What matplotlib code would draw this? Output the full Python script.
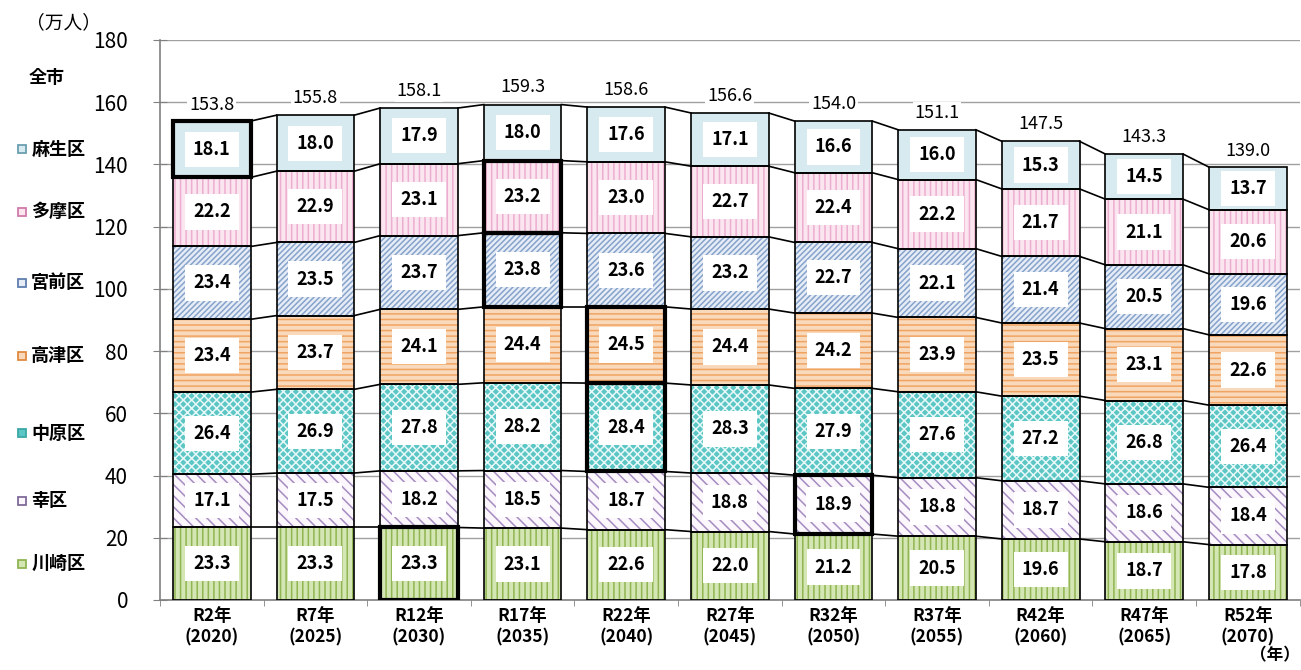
import numpy as np
import matplotlib
matplotlib.use("Agg")
import matplotlib.pyplot as plt
from matplotlib import transforms

plt.rcParams['font.family'] = ['Noto Sans CJK JP', 'DejaVu Sans']
plt.rcParams['hatch.linewidth'] = 1.1

years = ["R2年\n(2020)", "R7年\n(2025)", "R12年\n(2030)", "R17年\n(2035)", "R22年\n(2040)",
         "R27年\n(2045)", "R32年\n(2050)", "R37年\n(2055)", "R42年\n(2060)", "R47年\n(2065)",
         "R52年\n(2070)"]
districts = ["川崎区", "幸区", "中原区", "高津区", "宮前区", "多摩区", "麻生区"]
kawasaki = [23.3, 23.3, 23.3, 23.1, 22.6, 22.0, 21.2, 20.5, 19.6, 18.7, 17.8]
saiwai = [17.1, 17.5, 18.2, 18.5, 18.7, 18.8, 18.9, 18.8, 18.7, 18.6, 18.4]
nakahara = [26.4, 26.9, 27.8, 28.2, 28.4, 28.3, 27.9, 27.6, 27.2, 26.8, 26.4]
takatsu = [23.4, 23.7, 24.1, 24.4, 24.5, 24.4, 24.2, 23.9, 23.5, 23.1, 22.6]
miyamae = [23.4, 23.5, 23.7, 23.8, 23.6, 23.2, 22.7, 22.1, 21.4, 20.5, 19.6]
tama = [22.2, 22.9, 23.1, 23.2, 23.0, 22.7, 22.4, 22.2, 21.7, 21.1, 20.6]
asao = [18.1, 18.0, 17.9, 18.0, 17.6, 17.1, 16.6, 16.0, 15.3, 14.5, 13.7]
totals = [153.8, 155.8, 158.1, 159.3, 158.6, 156.6, 154.0, 151.1, 147.5, 143.3, 139.0]
# index of the year with the peak value of each district (bold frame)
peak_idx = [2, 6, 4, 4, 3, 3, 0]

series = [kawasaki, saiwai, nakahara, takatsu, miyamae, tama, asao]
faces = ["#d3e6b4", "#fbf7fc", "#5cc6c4", "#f9d9bb", "#e6edf6", "#fbe6f0", "#d7eaef"]
hatch_cols = ["#90b552", "#a58cc0", "#e8f8f8", "#f0a462", "#87a3cb", "#ecaed0", "#d7eaef"]
hatches = ["|||", "\\\\\\", "xxxx", "---", "//////", "|||", None]
marker_cols = ["#90b552", "#7f6a9a", "#3aa8a6", "#e08a40", "#5f7fae", "#d07aa8", "#6a9fb0"]

W = 0.75
x = np.arange(len(years))

fig = plt.figure(figsize=(13.01, 6.70), dpi=100)
ax = fig.add_axes([0.123, 0.1045, 0.876, 0.836])
trans = transforms.blended_transform_factory(ax.transAxes, ax.transData)

bottom = np.zeros(len(years))
for k, vals in enumerate(series):
    vals = np.array(vals)
    ax.bar(x, vals, W, bottom=bottom, color=faces[k], edgecolor=hatch_cols[k],
           hatch=hatches[k], linewidth=0, zorder=2)
    ax.bar(x, vals, W, bottom=bottom, facecolor="none", edgecolor="black",
           linewidth=1.2, zorder=3)
    p = peak_idx[k]
    ax.bar(x[p], vals[p], W, bottom=bottom[p], facecolor="none", edgecolor="black",
           linewidth=3, zorder=4)
    top = bottom + vals
    for i in range(len(years) - 1):
        ax.plot([x[i] + W / 2, x[i + 1] - W / 2], [top[i], top[i + 1]],
                color="black", lw=1.2, zorder=3)
    for i in range(len(years)):
        ax.text(x[i], bottom[i] + vals[i] / 2, f"{vals[i]:.1f}", ha="center", va="center",
                fontsize=13, fontweight="bold", zorder=5,
                bbox=dict(boxstyle="square,pad=0.45", fc="white", ec="none"))
    # district name on the left
    ymid = bottom[0] + vals[0] / 2
    ax.plot([-0.121], [ymid], marker="s", ms=6, mfc=faces[k], mec=marker_cols[k],
            mew=1.3, transform=trans, clip_on=False)
    ax.text(-0.113, ymid, districts[k], transform=trans,
            ha="left", va="center", fontsize=13, fontweight="bold")
    bottom = top

for i in range(len(years)):
    ax.text(x[i], totals[i] + 2.5, f"{totals[i]:.1f}", ha="center", va="bottom",
            fontsize=13, zorder=5,
            bbox=dict(boxstyle="square,pad=0.1", fc="white", ec="none"))

ax.text(-0.115, 168, "全市", transform=trans, ha="left", va="center",
        fontsize=13, fontweight="bold")
ax.text(-0.118, 185.5, "（万人）", transform=trans, ha="left", va="center", fontsize=13.5)
ax.text(1.0, -0.083, "（年）", transform=ax.transAxes, ha="right", va="top",
        fontsize=12, fontweight="bold")

ax.set_xlim(-0.5, len(years) - 0.5)
ax.set_ylim(0, 180)
ax.set_yticks(np.arange(0, 181, 20))
ax.set_yticklabels([str(v) for v in range(0, 181, 20)], fontsize=15)
ax.set_xticks(x)
ax.set_xticklabels(years, fontsize=12.5, fontweight="bold", linespacing=1.25)
ax.set_xticks(np.arange(-0.5, len(years), 1), minor=True)
ax.tick_params(axis="x", which="major", length=0, pad=5)
ax.tick_params(axis="x", which="minor", length=4, color="#808080")
ax.tick_params(axis="y", length=10, color="#808080", pad=18, direction="inout")
ax.grid(axis="y", color="#a0a0a0", lw=1, zorder=0)
ax.set_axisbelow(True)
for s in ["top", "right"]:
    ax.spines[s].set_visible(False)
for s in ["left", "bottom"]:
    ax.spines[s].set_color("#808080")
    ax.spines[s].set_linewidth(1.2)

fig.savefig("out.png", dpi=100)
